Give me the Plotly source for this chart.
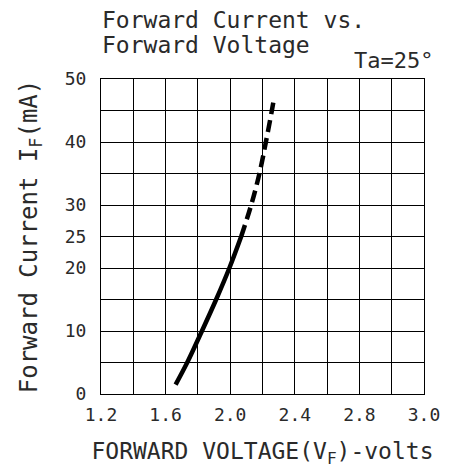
import plotly.graph_objects as go

# Data
vf_solid = [1.662, 1.734, 1.825, 1.913, 1.995, 2.068]
if_solid = [1.5, 5.0, 10.0, 15.0, 20.0, 25.0]
vf_dash = [2.068, 2.130, 2.181, 2.221, 2.258, 2.273]
if_dash = [25.0, 30.0, 35.0, 40.0, 45.0, 47.2]

x_grid_vals = [1.2, 1.4, 1.6, 1.8, 2.0, 2.2, 2.4, 2.6, 2.8, 3.0, 3.2]
x_tick_labels = ["1.2", "", "1.6", "", "2.0", "", "2.4", "", "2.8", "", "3.0"]
y_grid_vals = [0, 5, 10, 15, 20, 25, 30, 35, 40, 45, 50]
y_tick_labels = ["0", "", "10", "", "20", "25", "30", "", "40", "", "50"]

FONT = "DejaVu Sans Mono"
TXT = "#2a2a2a"

fig = go.Figure()
fig.add_trace(go.Scatter(x=vf_solid, y=if_solid, mode="lines",
                         line=dict(color="black", width=4.5, shape="spline"),
                         showlegend=False, hoverinfo="skip"))
fig.add_trace(go.Scatter(x=vf_dash, y=if_dash, mode="lines",
                         line=dict(color="black", width=4.5, dash="12px,6px", shape="spline"),
                         showlegend=False, hoverinfo="skip"))

axis_common = dict(showline=True, linecolor="black", linewidth=1, mirror=True,
                   showgrid=True, gridcolor="black", gridwidth=1, automargin=False,
                   zeroline=False, ticks="", tickfont=dict(family=FONT, size=18, color=TXT))

# page body has an 8px default margin, so the figure is shrunk by 8px
fig.update_layout(
    width=444, height=460,
    margin=dict(l=93, r=28, t=71, b=74),
    plot_bgcolor="white", paper_bgcolor="white",
    xaxis=dict(range=[1.2, 3.2], tickmode="array", tickvals=x_grid_vals, ticktext=x_tick_labels,
               ticklabelstandoff=4,
               title=dict(text="FORWARD VOLTAGE(V<sub>F</sub>)-volts", standoff=30,
                          font=dict(family=FONT, size=23, color=TXT)),
               **axis_common),
    yaxis=dict(range=[0, 50], tickmode="array", tickvals=y_grid_vals, ticktext=y_tick_labels,
               ticklabelstandoff=10,
               title=dict(text="Forward Current I<sub>F</sub>(mA)", standoff=20,
                          font=dict(family=FONT, size=24, color=TXT)),
               **axis_common),
    annotations=[
        dict(text="Forward Current vs.", xref="paper", yref="paper", x=-0.003, y=1.187,
             xanchor="left", yanchor="middle", showarrow=False,
             font=dict(family=FONT, size=23, color=TXT)),
        dict(text="Forward Voltage", xref="paper", yref="paper", x=-0.003, y=1.108,
             xanchor="left", yanchor="middle", showarrow=False,
             font=dict(family=FONT, size=23, color=TXT)),
        dict(text="Ta=25°", xref="paper", yref="paper", x=1.034, y=1.060,
             xanchor="right", yanchor="middle", showarrow=False,
             font=dict(family=FONT, size=22, color=TXT)),
    ],
)

fig.write_html("out.html")
